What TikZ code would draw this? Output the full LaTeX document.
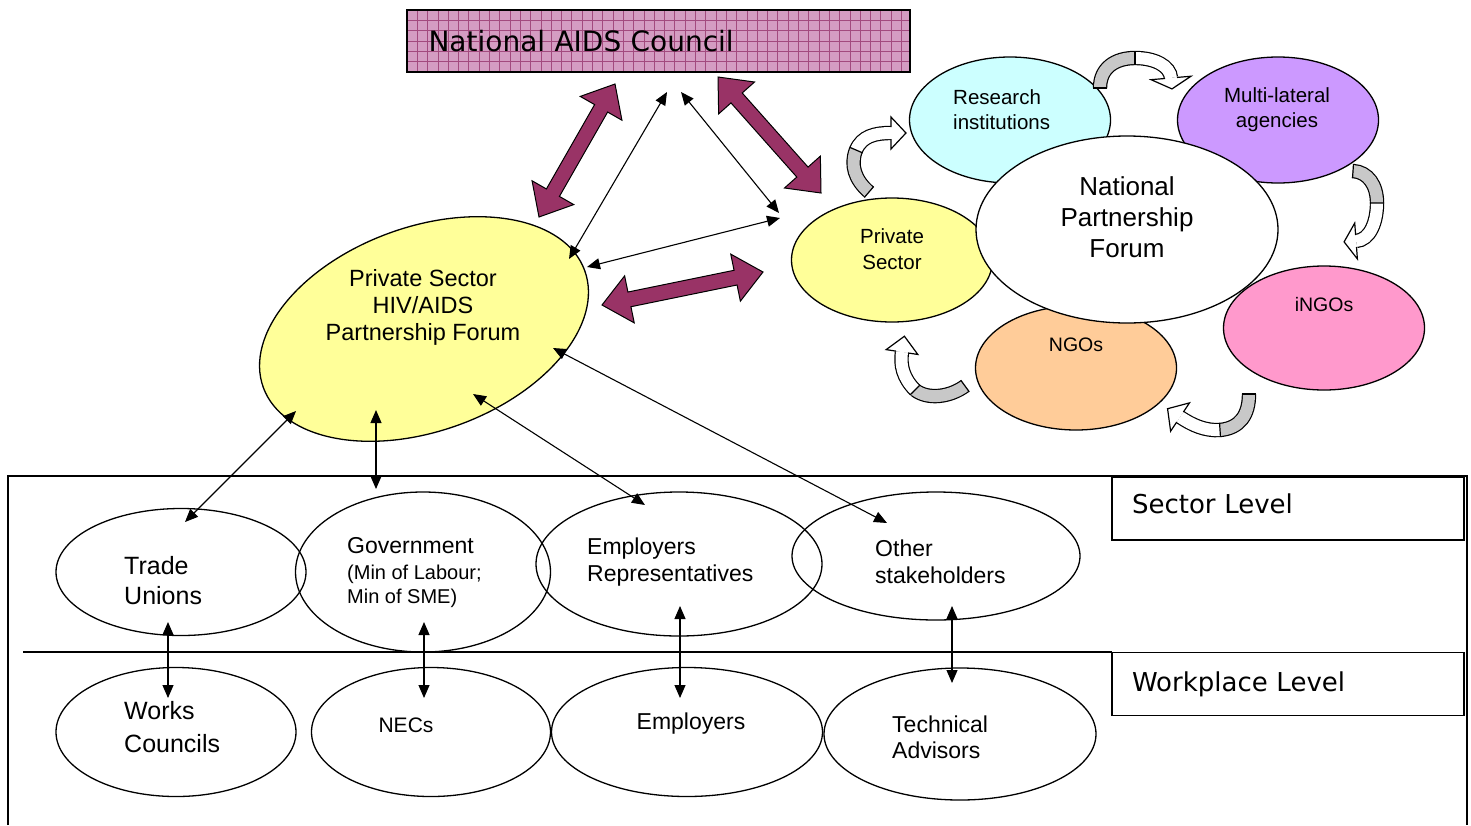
\documentclass[tikz,border=0pt]{standalone}
\usepackage{fontspec}
\setmainfont{Liberation Sans}
\newfontfamily\tahomalike{DejaVu Sans}
\usetikzlibrary{shapes.geometric, arrows.meta, calc, decorations.markings}

\definecolor{nacpink}{HTML}{D49CC2}
\definecolor{nacline}{HTML}{A24A7E}
\definecolor{plum}{HTML}{993366}
\definecolor{paleyellow}{HTML}{FFFF99}
\definecolor{palecyan}{HTML}{CCFFFF}
\definecolor{lilac}{HTML}{CC99FF}
\definecolor{rosepink}{HTML}{FF99CC}
\definecolor{peach}{HTML}{FFCC99}
\definecolor{foldgray}{HTML}{C8C8C8}

% thick two-headed block arrow between two points
\newcommand{\fatarrow}[2]{%
  \draw[fat] let \p1=(#1), \p2=(#2),
    \n1={atan2(\y2-\y1,\x2-\x1)}, \n2={veclen(\x2-\x1,\y2-\y1)} in
    [shift={(\p1)}, rotate=\n1]
    (0pt,0pt) -- (28pt,24pt) -- (28pt,7.5pt) -- ({\n2*1pt-28pt},7.5pt) -- ({\n2*1pt-28pt},24pt)
    -- ({\n2*1pt},0pt) -- ({\n2*1pt-28pt},-24pt) -- ({\n2*1pt-28pt},-7.5pt) -- (28pt,-7.5pt)
    -- (28pt,-24pt) -- cycle;}

% folded ribbon arrow: #1 grey back part, #2 white front part, #3 half head width, #4 head length
\newcommand{\foldarrow}[4]{%
  \draw[band, double=foldgray] #1;
  \draw[band, double=white] #2;
  \path[decorate, decoration={markings,
     mark=at position 0 with {\draw[line width=1.2pt] (0pt,-7.2pt) -- (0pt,7.2pt);}}] #1;
  \path[decorate, decoration={markings,
     mark=at position 0 with {\draw[line width=1.2pt] (0pt,-7.2pt) -- (0pt,7.2pt);},
     mark=at position 0.999 with {\fill[white] (0pt,-#3) -- (#4,0pt) -- (0pt,#3) -- cycle;
        \draw[line width=1.2pt, line join=miter] (0pt,-6pt) -- (0pt,-#3) -- (#4,0pt) -- (0pt,#3) -- (0pt,6pt);}}] #2;
}

\begin{document}
\begin{tikzpicture}[x=1pt, y=-1pt,
  bubble/.style={ellipse, draw=black, line width=1.3pt, inner sep=0pt},
  txt/.style={inner sep=0pt, align=left, text=black},
  link/.style={line width=1.1pt, {Triangle[length=13pt,width=11pt]}-{Triangle[length=13pt,width=11pt]}},
  fat/.style={fill=plum, draw=black, line width=1pt, line join=miter},
  band/.style={line width=1.2pt, double distance=12pt},
  levelbox/.style={draw=black, line width=1.3pt, minimum width=352pt, minimum height=63pt,
    text width=312pt, inner xsep=20pt, align=left, font=\tahomalike\fontsize{26}{30}\selectfont},
]
\useasboundingbox (0,0) rectangle (1471,825);

% ---------- sector / workplace frame ----------
\draw[line width=1.4pt] (8,825) -- (8,476) -- (1467,476) -- (1467,825);
\draw[line width=1.4pt] (23,652) -- (1112,652);
\node[levelbox, text depth=9pt] (sector) at (1288,508.5) {Sector Level};
\node[levelbox] (workplace) at (1288,684) {Workplace Level};

% ---------- sector level partners ----------
\node[bubble, minimum width=250pt, minimum height=127pt] (tu) at (181,572) {};
\node[bubble, minimum width=255pt, minimum height=160pt] (gov) at (423,572) {};
\node[bubble, minimum width=286pt, minimum height=144pt] (emprep) at (679,564) {};
\node[bubble, minimum width=288pt, minimum height=128pt] (other) at (936,556) {};

\node[txt, anchor=west, font=\fontsize{25}{30}\selectfont] (tu-t) at (124,581) {Trade\\Unions};
\node[txt, anchor=west, font=\fontsize{20}{24}\selectfont] (gov-t) at (347,573)
  {{\fontsize{23}{26}\selectfont Government}\\[2pt](Min of Labour;\\Min of SME)};
\node[txt, anchor=west, font=\fontsize{23}{27}\selectfont] (emprep-t) at (587,562) {Employers\\Representatives};
\node[txt, anchor=west, font=\fontsize{23}{27}\selectfont] (other-t) at (875,562) {Other\\stakeholders};

% ---------- workplace level partners ----------
\node[bubble, minimum width=240pt, minimum height=129pt] (works) at (176,732) {};
\node[bubble, minimum width=239pt, minimum height=129pt] (necs) at (431,732) {};
\node[bubble, minimum width=271pt, minimum height=129pt] (emp) at (687,732) {};
\node[bubble, minimum width=272pt, minimum height=132pt] (tech) at (960,734) {};

\node[txt, anchor=west, font=\fontsize{25}{33}\selectfont] (works-t) at (124,727) {Works\\Councils};
\node[txt, font=\fontsize{21}{25}\selectfont] (necs-t) at (406,725) {NECs};
\node[txt, font=\fontsize{23}{27}\selectfont] (emp-t) at (691,724) {Employers};
\node[txt, anchor=west, font=\fontsize{23}{26}\selectfont] (tech-t) at (892,737) {Technical\\Advisors};

% ---------- National AIDS Council ----------
\node[draw=black, line width=1.4pt, fill=nacpink, minimum height=62pt, text width=460pt,
  inner xsep=21.5pt, align=left, font=\tahomalike\fontsize{28}{32}\selectfont,
  path picture={
    \foreach \k in {0,...,48}
      \draw[nacline, line width=0.7pt] ($(path picture bounding box.north west)+(\k*10.3,0)$) -- ++(0,70);
    \foreach \k in {1,...,6}
      \draw[nacline, line width=0.7pt] ($(path picture bounding box.north west)+(0,\k*10.3)$) -- ++(510,0);
  }] (nac) at (658.5,41) {National AIDS Council};

% ---------- Private Sector HIV/AIDS Partnership Forum ----------
\node[bubble, fill=paleyellow, rotate=20, minimum width=342pt, minimum height=204pt] (psf) at (424,329) {};
\node[txt, align=center, font=\fontsize{23.5}{27}\selectfont] (psf-t) at (423,307)
  {Private Sector\\HIV/AIDS\\Partnership Forum};

% ---------- National Partnership Forum cluster ----------
\node[bubble, fill=palecyan, minimum width=201pt, minimum height=126pt] (research) at (1010,120) {};
\node[bubble, fill=lilac, minimum width=201pt, minimum height=126pt] (multi) at (1278,120) {};
\node[bubble, fill=rosepink, minimum width=201pt, minimum height=124pt] (ingo) at (1324,328) {};
\node[bubble, fill=peach, minimum width=201pt, minimum height=124pt] (ngo) at (1076,368) {};
\node[bubble, fill=paleyellow, minimum width=201pt, minimum height=124pt] (ps) at (892,260) {};
\node[bubble, fill=white, minimum width=302pt, minimum height=187pt] (npf) at (1127,229.5) {};

\node[txt, anchor=west, font=\fontsize{20.5}{25}\selectfont] (research-t) at (953,110) {Research\\institutions};
\node[txt, align=center, font=\fontsize{20.5}{25}\selectfont] (multi-t) at (1277,110) {Multi-lateral\\agencies};
\node[txt, align=center, font=\fontsize{26}{31}\selectfont] (npf-t) at (1127,217) {National\\Partnership\\Forum};
\node[txt, align=center, font=\fontsize{20.5}{26}\selectfont] (ps-t) at (892,249) {Private\\Sector};
\node[txt, font=\fontsize{19.5}{24}\selectfont] (ingo-t) at (1324,305) {iNGOs};
\node[txt, font=\fontsize{19.5}{24}\selectfont] (ngo-t) at (1076,345) {NGOs};

% ribbon arrows circling the forum
\foldarrow{(1100,88) .. controls (1100,68) and (1115,58) .. (1135,58)}
          {(1135,58) .. controls (1155,58) and (1170,66) .. (1171,78)}{20pt}{11pt}
\foldarrow{(1353,171) .. controls (1368,172) and (1377,185) .. (1377,203)}
          {(1377,203) .. controls (1377,222) and (1370,240) .. (1356,241)}{18pt}{12pt}
\foldarrow{(1249,394) .. controls (1249,415) and (1240,428) .. (1220,430)}
          {(1220,430) .. controls (1205,431) and (1192,425) .. (1180,417)}{17pt}{15pt}
\foldarrow{(965,386) .. controls (950,397) and (928,400) .. (915,390)}
          {(915,390) .. controls (903,378) and (900,365) .. (902,352)}{16pt}{16pt}
\foldarrow{(869,192) .. controls (855,180) and (850,165) .. (856,150)}
          {(856,150) .. controls (862,136) and (875,133) .. (891,133)}{16pt}{15pt}

% ---------- block arrows ----------
\coordinate (fa1-a) at (539,217); \coordinate (fa1-b) at (615,84);
\coordinate (fa2-a) at (718,77);  \coordinate (fa2-b) at (821,193);
\coordinate (fa3-a) at (602,305); \coordinate (fa3-b) at (763,272);
\fatarrow{fa1-a}{fa1-b}
\fatarrow{fa2-a}{fa2-b}
\fatarrow{fa3-a}{fa3-b}

% ---------- thin two-way links ----------
\coordinate (nac-l) at (667,92);  \coordinate (psf-ne) at (569,259);
\coordinate (nac-r) at (681,92);  \coordinate (ps-nw) at (779,213);
\coordinate (psf-e) at (587,267); \coordinate (ps-w) at (780,218);
\coordinate (psf-sw) at (296,411); \coordinate (tu-n) at (185,522);
\coordinate (psf-s) at (376,410);  \coordinate (gov-n) at (376,489);
\coordinate (psf-se) at (473,394); \coordinate (emprep-n) at (645,505);
\coordinate (psf-ese) at (553,348); \coordinate (other-n) at (887,523);
\coordinate (tu-s) at (168,622);  \coordinate (works-n) at (168,698);
\coordinate (gov-s) at (424,622); \coordinate (necs-n) at (424,698);
\coordinate (emprep-s) at (680,606); \coordinate (emp-n) at (680,698);
\coordinate (other-s) at (952,606);  \coordinate (tech-n) at (952,683);

\draw[link] (psf-ne) -- (nac-l);
\draw[link] (nac-r) -- (ps-nw);
\draw[link] (psf-e) -- (ps-w);
\draw[link] (psf-sw) -- (tu-n);
\draw[link] (psf-s) -- (gov-n);
\draw[link] (psf-se) -- (emprep-n);
\draw[link] (psf-ese) -- (other-n);
\draw[link] (tu-s) -- (works-n);
\draw[link] (gov-s) -- (necs-n);
\draw[link] (emprep-s) -- (emp-n);
\draw[link] (other-s) -- (tech-n);
\end{tikzpicture}
\end{document}
